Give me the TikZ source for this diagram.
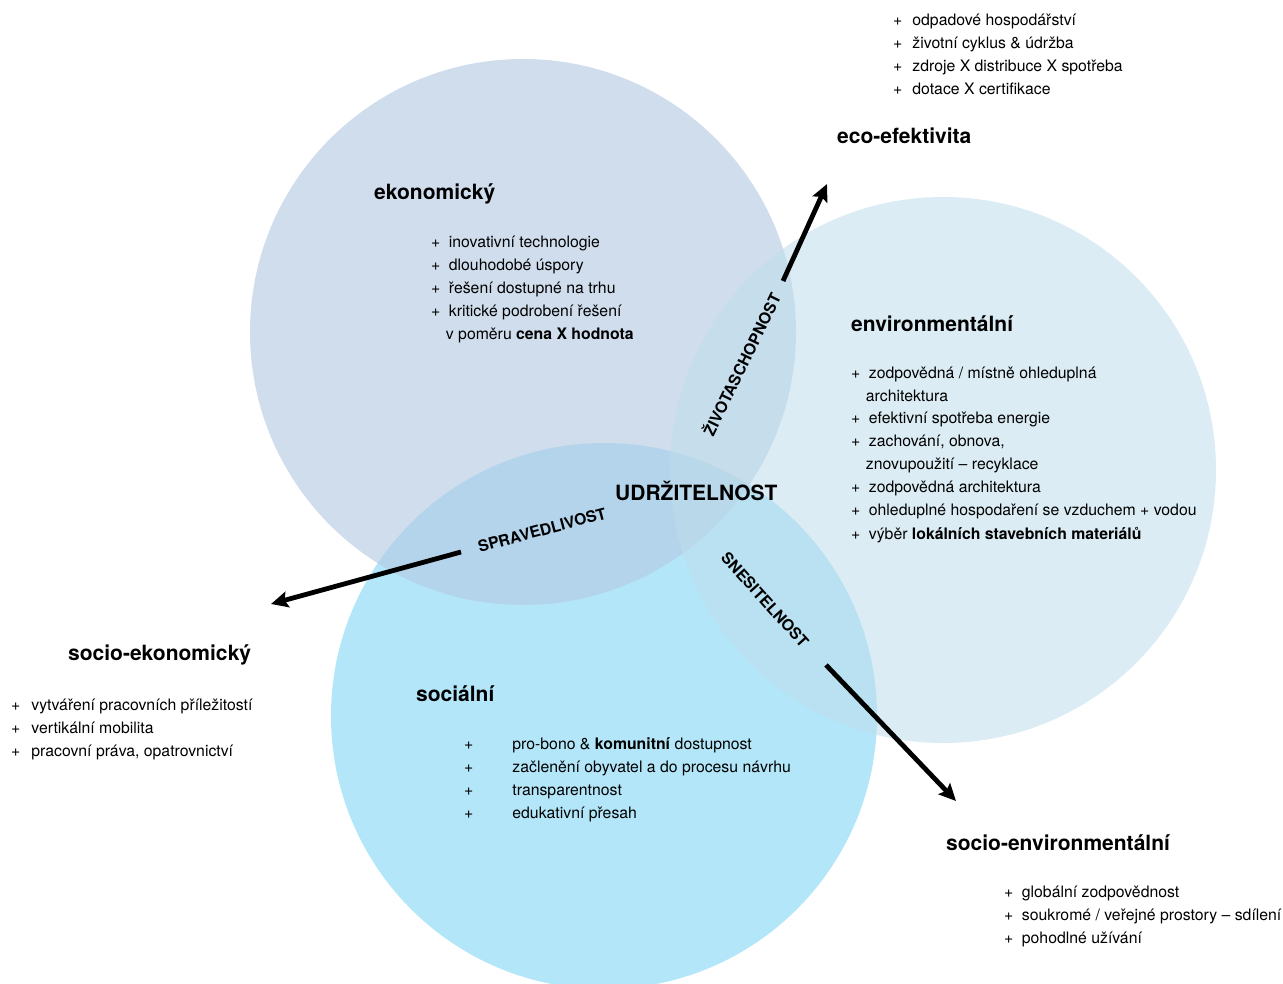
\documentclass[tikz,border=0pt]{standalone}
\usepackage{fontspec}
\setmainfont{TeX Gyre Heros}
\usetikzlibrary{arrows.meta}
\definecolor{socialni}{RGB}{179,230,249}
\definecolor{ekonom}{RGB}{182,203,228}
\definecolor{enviro}{RGB}{190,222,235}

\begin{document}
\begin{tikzpicture}[x=1pt,y=-1pt]
\tikzset{kruh/.style={circle, minimum size=546pt, inner sep=0pt},
  nadpis/.style={anchor=west, inner sep=0pt, font=\fontsize{21}{25}\selectfont\bfseries},
  osa/.style={inner sep=0pt, font=\fontsize{15.8}{18}\selectfont\bfseries},
  seznam/.style={anchor=base west, inner sep=0pt, font=\fontsize{15.8}{23}\selectfont},
  sipka/.style={line width=4.8pt, -{Stealth[length=17pt,width=16pt,inset=3pt]}}}
\clip (0,0) rectangle (1283,984);
\fill[white] (0,0) rectangle (1283,984);
% kruhy
\node[kruh, fill=socialni] (S) at (604,716) {};
\node[kruh, fill=ekonom, fill opacity=0.64] (E) at (523,332) {};
\node[kruh, fill=enviro, fill opacity=0.55] (N) at (943,470) {};
% nadpisy
\node[nadpis] (Et) at (374,194) {ekonomický};
\node[nadpis] (Nt) at (851,324) {environmentální};
\node[nadpis] (St) at (416,694) {sociální};
\node[nadpis] (EN) at (837,136) {eco-efektivita};
\node[nadpis] (SE) at (68,655) {socio-ekonomický};
\node[nadpis] (SN) at (946,843) {socio-environmentální};
\node[nadpis] (U) at (615,491) {UDRŽITELNOST};
% seznamy
\node[seznam] (El) at (431,248) {\begin{tabular}[t]{@{}l@{\hspace{8.5pt}}l@{}}
+ & inovativní technologie\\
+ & dlouhodobé úspory\\
+ & řešení dostupné na trhu\\
+ & kritické podrobení řešení\\
 & \hspace{-3pt}v poměru \textbf{cena X hodnota}
\end{tabular}};
\node[seznam] (Nl) at (851,378) {\begin{tabular}[t]{@{}l@{\hspace{8.5pt}}l@{}}
+ & zodpovědná / místně ohleduplná\\
 & \hspace{-3pt}architektura\\
+ & efektivní spotřeba energie\\
+ & zachování, obnova,\\
 & \hspace{-3pt}znovupoužití – recyklace\\
+ & zodpovědná architektura\\
+ & ohleduplné hospodaření se vzduchem + vodou\\
+ & výběr \textbf{lokálních stavebních materiálů}
\end{tabular}};
\node[seznam] (Sl) at (464,749) {\begin{tabular}[t]{@{}l@{\hspace{39pt}}l@{}}
+ & pro-bono \& \textbf{komunitní} dostupnost\\
+ & začlenění obyvatel a do procesu návrhu\\
+ & transparentnost\\
+ & edukativní přesah
\end{tabular}};
\node[seznam] (ENl) at (893,26) {\begin{tabular}[t]{@{}l@{\hspace{10pt}}l@{}}
+ & odpadové hospodářství\\
+ & životní cyklus \& údržba\\
+ & zdroje X distribuce X spotřeba\\
+ & dotace X certifikace
\end{tabular}};
\node[seznam] (SEl) at (11,710) {\begin{tabular}[t]{@{}l@{\hspace{11pt}}l@{}}
+ & vytváření pracovních příležitostí\\
+ & vertikální mobilita\\
+ & pracovní práva, opatrovnictví
\end{tabular}};
\node[seznam] (SNl) at (1004,897) {\begin{tabular}[t]{@{}l@{\hspace{8.5pt}}l@{}}
+ & globální zodpovědnost\\
+ & soukromé / veřejné prostory – sdílení\\
+ & pohodlné užívání
\end{tabular}};
% osy
\node[osa, rotate=64] (Zi) at (741,364) {ŽIVOTASCHOPNOST};
\node[osa, rotate=15] (Sp) at (542,530) {SPRAVEDLIVOST};
\node[osa, rotate=-48] (Sn) at (765,600) {SNESITELNOST};
% sipky
\coordinate (z1) at (783,281);
\coordinate (z2) at (827,184);
\coordinate (p1) at (461,552);
\coordinate (p2) at (271,604);
\coordinate (n1) at (826,665);
\coordinate (n2) at (956,801);
\draw[sipka] (z1) -- (z2);
\draw[sipka] (p1) -- (p2);
\draw[sipka] (n1) -- (n2);
\end{tikzpicture}
\end{document}
